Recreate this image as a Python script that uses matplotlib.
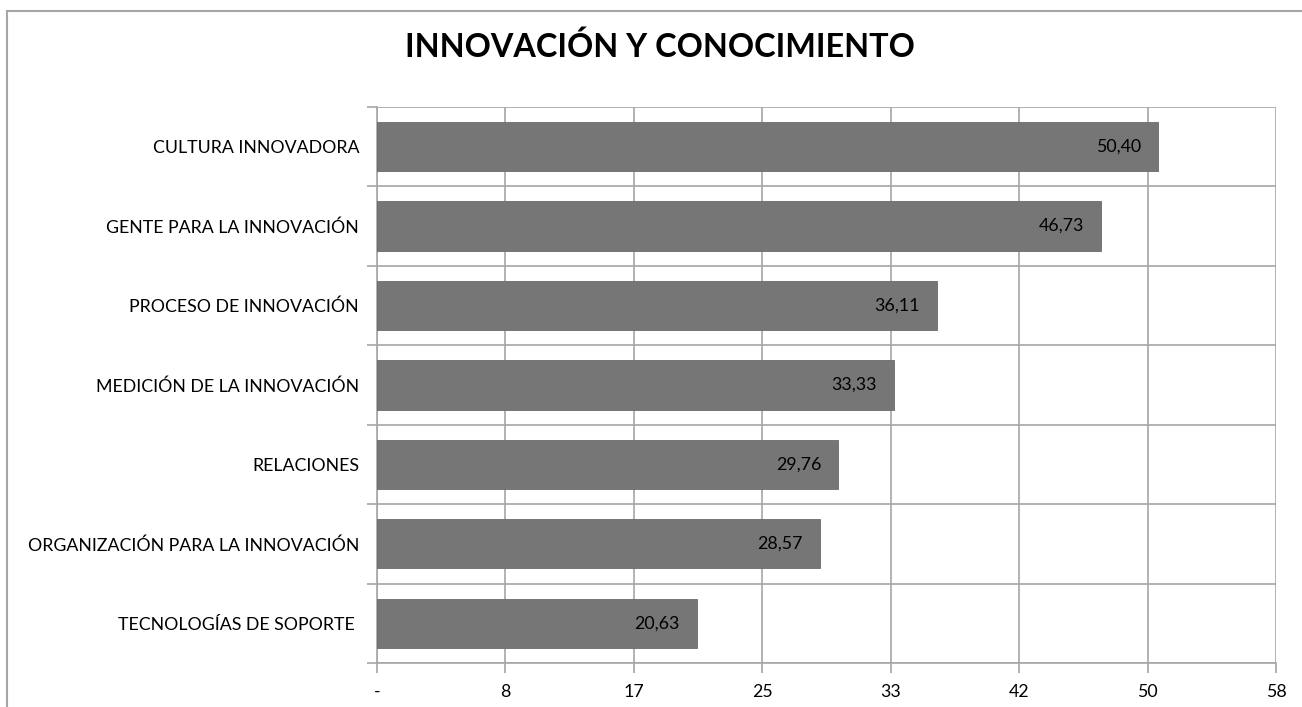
import numpy as np
import matplotlib.pyplot as plt
from matplotlib.patches import Rectangle

categorias = ['CULTURA INNOVADORA', 'GENTE PARA LA INNOVACIÓN', 'PROCESO DE INNOVACIÓN',
              'MEDICIÓN DE LA INNOVACIÓN', 'RELACIONES', 'ORGANIZACIÓN PARA LA INNOVACIÓN',
              'TECNOLOGÍAS DE SOPORTE ']
valores = [50.40, 46.73, 36.11, 33.33, 29.76, 28.57, 20.63]
eje_max = 58
etiquetas_x = ['-', '8', '17', '25', '33', '42', '50', '58']

plt.rcParams['font.family'] = ['Lato', 'DejaVu Sans']
gris = '#a6a6a6'

fig = plt.figure(figsize=(13.02, 7.07), dpi=100)
ax = fig.add_axes([0.2896, 0.0622, 0.6905, 0.7865])

# marco exterior del gráfico (solo se ven el borde superior y el izquierdo)
fig.add_artist(Rectangle((7 / 1302, -0.1), 1.2, 1.1 - 11 / 707, transform=fig.transFigure,
                         fill=False, edgecolor=gris, linewidth=1.5))

n = len(categorias)
y = np.arange(n)[::-1]
ax.barh(y, valores, height=0.62, color='#767676', edgecolor='#6a6a6a', linewidth=0.6, zorder=3)

for yi, v in zip(y, valores):
    ax.text(v - 1.1, yi, f'{v:.2f}'.replace('.', ','), ha='right', va='center',
            fontsize=12.8, color='black', zorder=4)

ax.set_xlim(0, eje_max)
ax.set_ylim(-0.5, n - 0.5)

xt = np.linspace(0, eje_max, len(etiquetas_x))
ax.set_xticks(xt)
ax.set_xticklabels(etiquetas_x, fontsize=12.8)
ax.set_yticks(y)
ax.set_yticklabels(categorias, fontsize=12.8)
ax.set_yticks(np.arange(-0.5, n, 1.0), minor=True)

ax.grid(axis='x', color=gris, linewidth=1.2, zorder=0)
ax.grid(axis='y', which='minor', color=gris, linewidth=1.2, zorder=0)
ax.tick_params(axis='y', which='major', length=0, pad=13)
ax.tick_params(axis='y', which='minor', length=7, color=gris, width=1.2)
ax.tick_params(axis='x', length=7, color=gris, width=1.2, pad=8)

for lado in ['top', 'right']:
    ax.spines[lado].set_visible(False)
for lado in ['left', 'bottom']:
    ax.spines[lado].set_color(gris)
    ax.spines[lado].set_linewidth(1.2)

fig.text(0.507, 0.934, 'INNOVACIÓN Y CONOCIMIENTO', ha='center', va='center',
         fontsize=23.3, fontweight='bold')

fig.savefig('out.png', dpi=100)
